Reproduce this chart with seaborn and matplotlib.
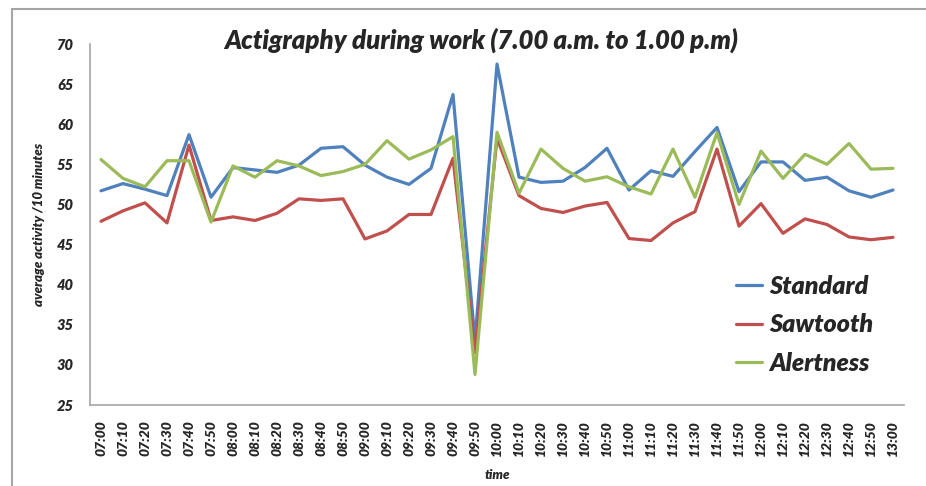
import numpy as np
import pandas as pd
import matplotlib.pyplot as plt
import matplotlib.patches as mpatches
import seaborn as sns

# time labels, every 10 minutes from 07:00 to 13:00
times = ['07:00', '07:10', '07:20', '07:30', '07:40', '07:50',
         '08:00', '08:10', '08:20', '08:30', '08:40', '08:50',
         '09:00', '09:10', '09:20', '09:30', '09:40', '09:50',
         '10:00', '10:10', '10:20', '10:30', '10:40', '10:50',
         '11:00', '11:10', '11:20', '11:30', '11:40', '11:50',
         '12:00', '12:10', '12:20', '12:30', '12:40', '12:50', '13:00']

standard = [51.7, 52.6, 51.9, 51.1, 58.7, 50.9,
            54.6, 54.3, 54.0, 54.9, 57.0, 57.2,
            54.9, 53.4, 52.5, 54.5, 63.7, 33.0,
            67.5, 53.4, 52.75, 52.9, 54.6, 57.0,
            51.8, 54.2, 53.5, 56.6, 59.6, 51.6,
            55.3, 55.3, 53.0, 53.4, 51.7, 50.9, 51.8]

sawtooth = [47.9, 49.2, 50.2, 47.7, 57.4, 48.0,
            48.45, 48.0, 48.9, 50.7, 50.5, 50.7,
            45.7, 46.7, 48.75, 48.75, 55.75, 31.5,
            58.25, 51.1, 49.5, 49.0, 49.8, 50.25,
            45.75, 45.5, 47.7, 49.1, 56.9, 47.3,
            50.1, 46.4, 48.2, 47.5, 45.95, 45.6, 45.9]

alertness = [55.6, 53.25, 52.2, 55.45, 55.45, 47.8,
             54.8, 53.4, 55.45, 54.8, 53.6, 54.1,
             55.0, 57.95, 55.65, 56.8, 58.45, 28.8,
             59.0, 51.4, 56.9, 54.5, 52.9, 53.45,
             52.2, 51.3, 56.9, 50.9, 58.95, 50.0,
             56.65, 53.25, 56.25, 55.0, 57.6, 54.4, 54.5]

series_names = ['Standard', 'Sawtooth', 'Alertness']
colors = ['#4F81BD', '#C0504D', '#9BBB59']

# long-form table for seaborn
n = len(times)
df = pd.DataFrame({
    'pos': list(range(n)) * 3,
    'value': standard + sawtooth + alertness,
    'series': [s for s in series_names for _ in range(n)],
})

sns.set_style('white')
plt.rcParams['font.family'] = ['Lato', 'DejaVu Sans']
W = 'heavy'

fig = plt.figure(figsize=(9.26, 4.86), dpi=100)
ax = fig.add_axes([90 / 926, 81 / 486, 814 / 926, 361 / 486])

sns.lineplot(data=df, x='pos', y='value', hue='series', palette=colors,
             hue_order=series_names, linewidth=2.3, ax=ax, legend=True)

# axes styling (Excel-like)
ax.set_xlim(-0.5, n - 0.5)
ax.set_ylim(25, 70)
ax.set_yticks(range(25, 71, 5))
ax.set_xticks(range(n))
ax.set_xticklabels(times, rotation=90, fontsize=10, fontweight=W, style='italic')
ax.set_xticks(np.arange(-0.5, n, 1), minor=True)
ax.tick_params(axis='x', which='major', length=0, pad=11)
ax.tick_params(axis='x', which='minor', length=4, color='#a6a6a6', width=1, direction='out')
ax.tick_params(axis='y', length=4, color='#a6a6a6', width=1, direction='out', pad=8)
for lbl in ax.get_yticklabels():
    lbl.set_fontsize(10.5)
    lbl.set_fontweight(W)
    lbl.set_style('italic')

for side in ['top', 'right']:
    ax.spines[side].set_visible(False)
for side in ['left', 'bottom']:
    ax.spines[side].set_color('#a6a6a6')
    ax.spines[side].set_linewidth(1.2)

ax.set_xlabel('time', fontsize=9.5, fontweight=W, style='italic', labelpad=9)
ax.set_ylabel('average activity /10 minutes', fontsize=9.5, fontweight=W, style='italic', labelpad=8)
ax.set_title('Actigraphy during work (7.00 a.m. to 1.00 p.m)', fontsize=18.5,
             fontweight=W, style='italic', pad=-3, x=0.48)

ax.legend(loc='center left', bbox_to_anchor=(713 / 926, 1 - 325 / 486),
          bbox_transform=fig.transFigure, frameon=False, handlelength=1.05,
          handletextpad=0.3, labelspacing=0.62,
          prop={'size': 18, 'weight': W, 'style': 'italic'})

# outer chart border
fig.patches.append(mpatches.Rectangle((12 / 926, -0.1), 1.2, 1 - 9 / 486 + 0.1,
                                      transform=fig.transFigure, fill=False,
                                      edgecolor='#a6a6a6', linewidth=1.5))

fig.savefig('out.png', dpi=100)
